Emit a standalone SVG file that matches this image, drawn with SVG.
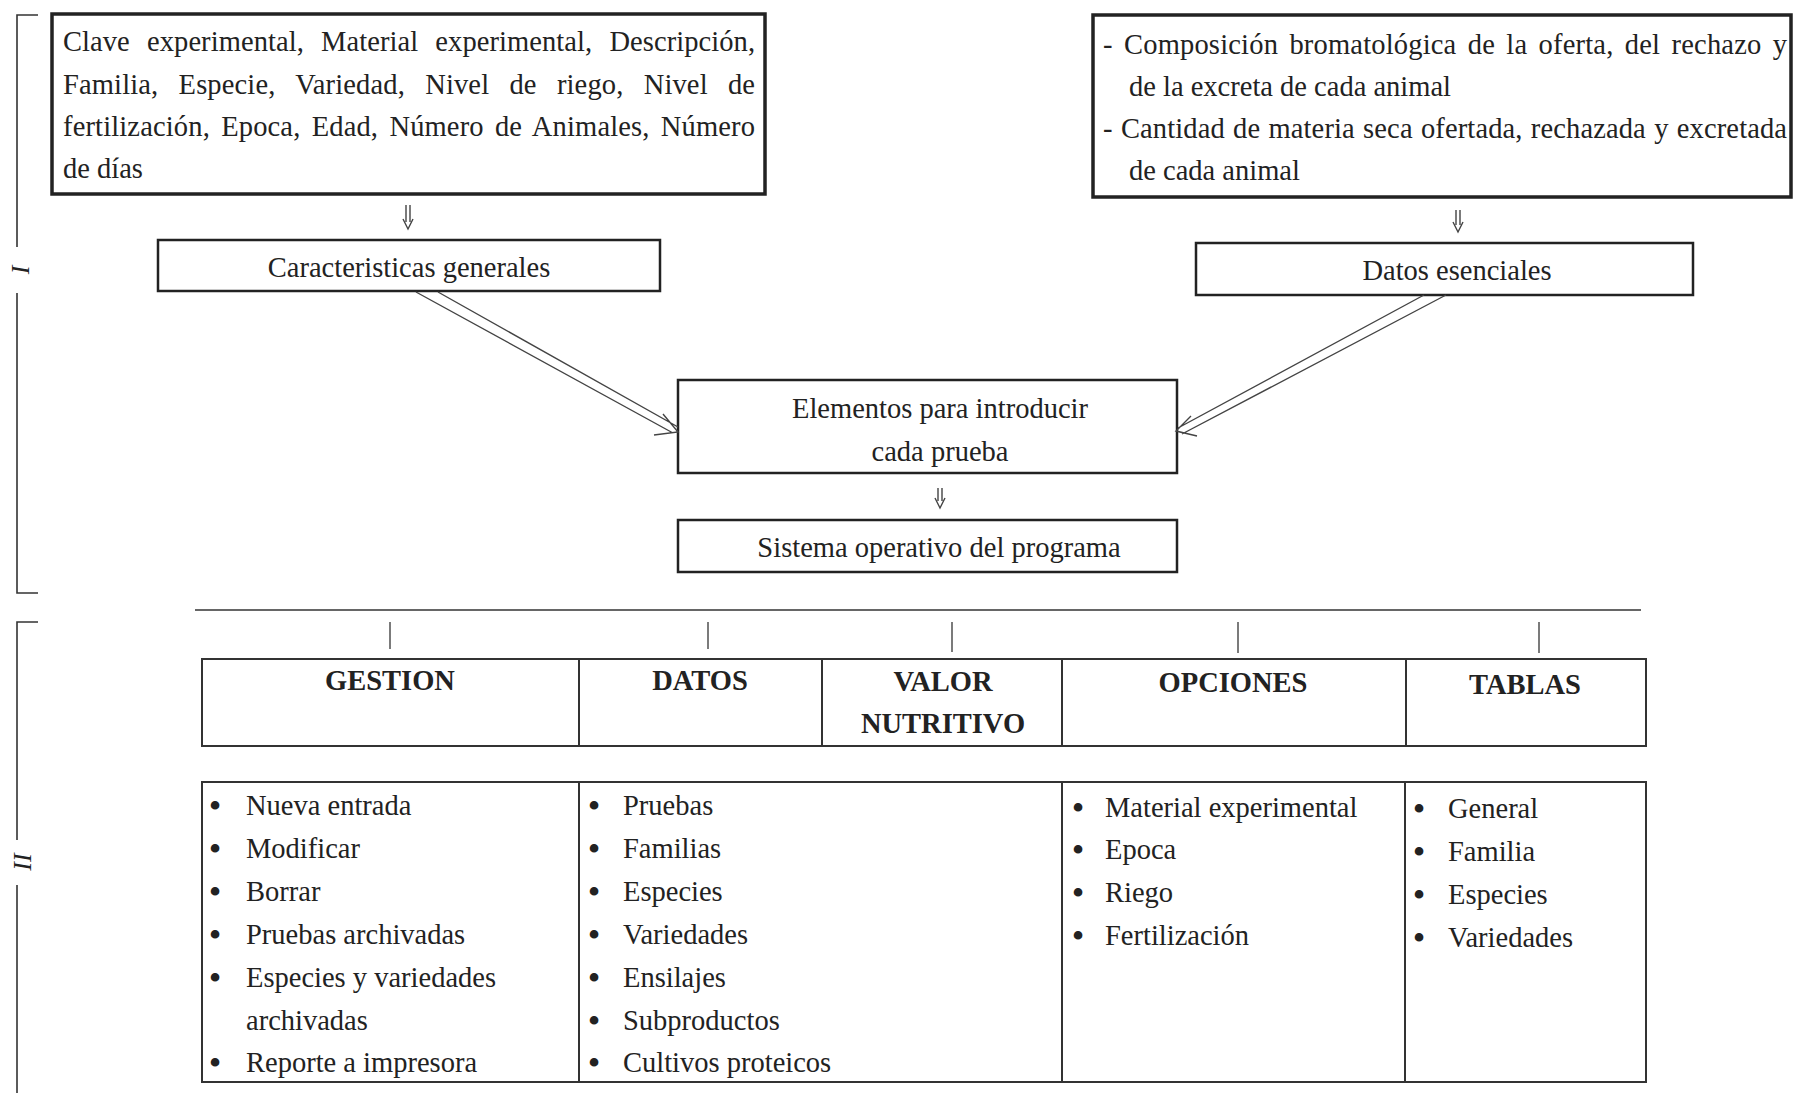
<svg xmlns="http://www.w3.org/2000/svg" width="1794" height="1093" viewBox="0 0 1794 1093">
<defs>
<style>
.t{font-family:"Liberation Serif","Times New Roman",serif;font-size:28.5px;fill:#222}
.c{text-anchor:middle}
.b{font-weight:bold}
.bu{font-size:36px}
.it{font-style:italic;font-size:26px}
.box{fill:none;stroke:#222;stroke-width:2.5}
.thick{stroke-width:3.5}
.tbl{fill:none;stroke:#333;stroke-width:2}
.ln{fill:none;stroke:#333;stroke-width:1.6}
.thin{fill:none;stroke:#444;stroke-width:1.4}
</style>
</defs>
<rect width="1794" height="1093" fill="#fff"/>

<g id="bracket-I">
<path class="ln" d="M38,15 H17 V247 M17,293 V593 H38"/>
<text class="t it" text-anchor="middle" transform="translate(29,270) rotate(-90)">I</text>
</g>
<g id="bracket-II">
<path class="ln" d="M38,622 H17 V840 M17,885 V1093"/>
<text class="t it" text-anchor="middle" transform="translate(31,862) rotate(-90)">II</text>
</g>

<g id="node-input-general">
<rect class="box thick" x="52" y="14" width="713" height="180"/>
<text class="t" x="63" y="51" textLength="692" lengthAdjust="spacing" word-spacing="10">Clave experimental, Material experimental, Descripción,</text>
<text class="t" x="63" y="94" textLength="692" lengthAdjust="spacing" word-spacing="13">Familia, Especie, Variedad, Nivel de riego, Nivel de</text>
<text class="t" x="63" y="136" textLength="692" lengthAdjust="spacing" word-spacing="4">fertilización, Epoca, Edad, Número de Animales, Número</text>
<text class="t" x="63" y="178">de días</text>
</g>

<g id="node-caracteristicas">
<rect class="box" x="158" y="240" width="502" height="51"/>
<text class="t c" x="409" y="277">Caracteristicas generales</text>
</g>

<g id="node-input-esenciales">
<rect class="box thick" x="1093" y="15" width="698" height="182"/>
<text class="t" x="1103" y="54" textLength="684" lengthAdjust="spacing" word-spacing="4">- Composición bromatológica de la oferta, del rechazo y</text>
<text class="t" x="1129" y="96">de la excreta de cada animal</text>
<text class="t" x="1103" y="138" textLength="684" lengthAdjust="spacing" word-spacing="1">- Cantidad de materia seca ofertada, rechazada y excretada</text>
<text class="t" x="1129" y="180">de cada animal</text>
</g>

<g id="node-datos-esenciales">
<rect class="box" x="1196" y="243" width="497" height="52"/>
<text class="t c" x="1457" y="280">Datos esenciales</text>
</g>

<g id="node-elementos">
<rect class="box" x="678" y="380" width="499" height="93"/>
<text class="t c" x="940" y="418">Elementos para introducir</text>
<text class="t c" x="940" y="461">cada prueba</text>
</g>

<g id="node-sistema">
<rect class="box" x="678" y="520" width="499" height="52"/>
<text class="t c" x="939" y="557">Sistema operativo del programa</text>
</g>

<g id="node-menu-header">
<rect class="tbl" x="202" y="659" width="1444" height="87"/>
<path class="tbl" d="M579,659 V746 M822,659 V746 M1062,659 V746 M1406,659 V746"/>
<text class="t b c" x="390" y="690">GESTION</text>
<text class="t b c" x="700" y="690">DATOS</text>
<text class="t b c" x="943" y="691">VALOR</text>
<text class="t b c" x="943" y="733">NUTRITIVO</text>
<text class="t b c" x="1233" y="692">OPCIONES</text>
<text class="t b c" x="1525" y="694">TABLAS</text>
</g>

<g id="node-menu-items">
<rect class="tbl" x="202" y="782" width="1444" height="300"/>
<path class="tbl" d="M579,782 V1082 M1062,782 V1082 M1405,782 V1082"/>
<g id="list-gestion">
<text class="t c bu" x="215" y="818">•</text><text class="t" x="246" y="815">Nueva entrada</text>
<text class="t c bu" x="215" y="861">•</text><text class="t" x="246" y="858">Modificar</text>
<text class="t c bu" x="215" y="904">•</text><text class="t" x="246" y="901">Borrar</text>
<text class="t c bu" x="215" y="947">•</text><text class="t" x="246" y="944">Pruebas archivadas</text>
<text class="t c bu" x="215" y="990">•</text><text class="t" x="246" y="987">Especies y variedades</text>
<text class="t" x="246" y="1030">archivadas</text>
<text class="t c bu" x="215" y="1075">•</text><text class="t" x="246" y="1072">Reporte a impresora</text>
</g>
<g id="list-datos">
<text class="t c bu" x="594" y="818">•</text><text class="t" x="623" y="815">Pruebas</text>
<text class="t c bu" x="594" y="861">•</text><text class="t" x="623" y="858">Familias</text>
<text class="t c bu" x="594" y="904">•</text><text class="t" x="623" y="901">Especies</text>
<text class="t c bu" x="594" y="947">•</text><text class="t" x="623" y="944">Variedades</text>
<text class="t c bu" x="594" y="990">•</text><text class="t" x="623" y="987">Ensilajes</text>
<text class="t c bu" x="594" y="1033">•</text><text class="t" x="623" y="1030">Subproductos</text>
<text class="t c bu" x="594" y="1075">•</text><text class="t" x="623" y="1072">Cultivos proteicos</text>
</g>
<g id="list-opciones">
<text class="t c bu" x="1078" y="820">•</text><text class="t" x="1105" y="817">Material experimental</text>
<text class="t c bu" x="1078" y="862">•</text><text class="t" x="1105" y="859">Epoca</text>
<text class="t c bu" x="1078" y="905">•</text><text class="t" x="1105" y="902">Riego</text>
<text class="t c bu" x="1078" y="948">•</text><text class="t" x="1105" y="945">Fertilización</text>
</g>
<g id="list-tablas">
<text class="t c bu" x="1419" y="821">•</text><text class="t" x="1448" y="818">General</text>
<text class="t c bu" x="1419" y="864">•</text><text class="t" x="1448" y="861">Familia</text>
<text class="t c bu" x="1419" y="907">•</text><text class="t" x="1448" y="904">Especies</text>
<text class="t c bu" x="1419" y="950">•</text><text class="t" x="1448" y="947">Variedades</text>
</g>
</g>

<g id="connectors">
<path class="thin" d="M406,205 V222 M410,205 V222 M403,219 L408,229 L413,219"/>
<path class="thin" d="M1456,210 V225 M1460,210 V225 M1453,222 L1458,232 L1463,222"/>
<path class="thin" d="M938,488 V501 M942,488 V501 M935,498 L940,508 L945,498"/>
<path class="thin" d="M416,292 L673,433 M438,292 L678,427 M663,414 L678,432 L654,435"/>
<path class="thin" d="M1424,295 L1178,428 M1446,295 L1182,434 M1191,416 L1176,431 L1197,436"/>
<path class="ln" d="M195,610 H1641"/>
<path class="thin" d="M390,622 V649 M708,622 V649 M952,622 V652 M1238,622 V653 M1539,622 V653"/>
</g>
</svg>
